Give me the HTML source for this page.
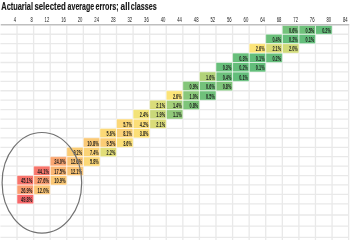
<!DOCTYPE html><html><head><meta charset="utf-8"><style>
html,body{margin:0;padding:0;background:#fff;}
body{width:350px;height:240px;overflow:hidden;position:relative;}
svg{position:absolute;left:0;top:0;will-change:transform;filter:blur(0.35px);font-family:"Liberation Sans",sans-serif;}
</style></head><body>
<svg width="350" height="240" viewBox="0 0 350 240">
<path d="M17.03 25.45V240M33.61 25.45V240M50.19 25.45V240M66.77 25.45V240M83.35 25.45V240M99.93 25.45V240M116.51 25.45V240M133.09 25.45V240M149.67 25.45V240M166.25 25.45V240M182.83 25.45V240M199.41 25.45V240M215.99 25.45V240M232.57 25.45V240M249.15 25.45V240M265.73 25.45V240M282.31 25.45V240M298.89 25.45V240M315.47 25.45V240M332.05 25.45V240M348.63 25.45V240M0.45 34.25H348.63M0.45 43.67H348.63M0.45 53.09H348.63M0.45 62.51H348.63M0.45 71.93H348.63M0.45 81.35H348.63M0.45 90.77H348.63M0.45 100.19H348.63M0.45 109.61H348.63M0.45 119.03H348.63M0.45 128.45H348.63M0.45 137.87H348.63M0.45 147.29H348.63M0.45 156.71H348.63M0.45 166.13H348.63M0.45 175.55H348.63M0.45 184.97H348.63M0.45 194.39H348.63M0.45 203.81H348.63M0.45 215.01H348.63M0.45 226.21H348.63M0.45 237.41H348.63M0.45 248.61H348.63" stroke="#e9e9e9" stroke-width="1.3" fill="none"/>
<rect x="282.31" y="25.45" width="16.58" height="8.80" fill="#74c27b"/>
<rect x="298.89" y="25.45" width="16.58" height="8.80" fill="#6fc17b"/>
<rect x="315.47" y="25.45" width="16.58" height="8.80" fill="#65be7b"/>
<rect x="265.73" y="34.25" width="16.58" height="9.42" fill="#6bc07b"/>
<rect x="282.31" y="34.25" width="16.58" height="9.42" fill="#65be7b"/>
<rect x="298.89" y="34.25" width="16.58" height="9.42" fill="#63be7b"/>
<rect x="249.15" y="43.67" width="16.58" height="9.42" fill="#fce478"/>
<rect x="265.73" y="43.67" width="16.58" height="9.42" fill="#dadc79"/>
<rect x="282.31" y="43.67" width="16.58" height="9.42" fill="#d1da79"/>
<rect x="232.57" y="53.09" width="16.58" height="9.42" fill="#68bf7b"/>
<rect x="249.15" y="53.09" width="16.58" height="9.42" fill="#63be7b"/>
<rect x="265.73" y="53.09" width="16.58" height="9.42" fill="#65be7b"/>
<rect x="215.99" y="62.51" width="16.58" height="9.42" fill="#68bf7b"/>
<rect x="232.57" y="62.51" width="16.58" height="9.42" fill="#65be7b"/>
<rect x="249.15" y="62.51" width="16.58" height="9.42" fill="#63be7b"/>
<rect x="199.41" y="71.93" width="16.58" height="9.42" fill="#b2d279"/>
<rect x="215.99" y="71.93" width="16.58" height="9.42" fill="#6bc07b"/>
<rect x="232.57" y="71.93" width="16.58" height="9.42" fill="#63be7b"/>
<rect x="182.83" y="81.35" width="16.58" height="9.42" fill="#84c67a"/>
<rect x="199.41" y="81.35" width="16.58" height="9.42" fill="#74c27b"/>
<rect x="215.99" y="81.35" width="16.58" height="9.42" fill="#7ec57a"/>
<rect x="166.25" y="90.77" width="16.58" height="9.42" fill="#fce478"/>
<rect x="182.83" y="90.77" width="16.58" height="9.42" fill="#8ac87a"/>
<rect x="199.41" y="90.77" width="16.58" height="9.42" fill="#6fc17b"/>
<rect x="149.67" y="100.19" width="16.58" height="9.42" fill="#dadc79"/>
<rect x="166.25" y="100.19" width="16.58" height="9.42" fill="#a4cf7a"/>
<rect x="182.83" y="100.19" width="16.58" height="9.42" fill="#7ec57a"/>
<rect x="133.09" y="109.61" width="16.58" height="9.42" fill="#f3e378"/>
<rect x="149.67" y="109.61" width="16.58" height="9.42" fill="#c9d879"/>
<rect x="166.25" y="109.61" width="16.58" height="9.42" fill="#90c97a"/>
<rect x="116.51" y="119.03" width="16.58" height="9.42" fill="#fcd877"/>
<rect x="133.09" y="119.03" width="16.58" height="9.42" fill="#fcde77"/>
<rect x="149.67" y="119.03" width="16.58" height="9.42" fill="#dadc79"/>
<rect x="99.93" y="128.45" width="16.58" height="9.42" fill="#fcd977"/>
<rect x="116.51" y="128.45" width="16.58" height="9.42" fill="#fbd176"/>
<rect x="133.09" y="128.45" width="16.58" height="9.42" fill="#fcdf77"/>
<rect x="83.35" y="137.87" width="16.58" height="9.42" fill="#fbc975"/>
<rect x="99.93" y="137.87" width="16.58" height="9.42" fill="#fbcd75"/>
<rect x="116.51" y="137.87" width="16.58" height="9.42" fill="#fce077"/>
<rect x="66.77" y="147.29" width="16.58" height="9.42" fill="#fbcd76"/>
<rect x="83.35" y="147.29" width="16.58" height="9.42" fill="#fbd376"/>
<rect x="99.93" y="147.29" width="16.58" height="9.42" fill="#e2de79"/>
<rect x="50.19" y="156.71" width="16.58" height="9.42" fill="#faa671"/>
<rect x="66.77" y="156.71" width="16.58" height="9.42" fill="#fbc475"/>
<rect x="83.35" y="156.71" width="16.58" height="9.42" fill="#fcd877"/>
<rect x="33.61" y="166.13" width="16.58" height="9.42" fill="#f8766c"/>
<rect x="50.19" y="166.13" width="16.58" height="9.42" fill="#fab673"/>
<rect x="66.77" y="166.13" width="16.58" height="9.42" fill="#fbc575"/>
<rect x="17.03" y="175.55" width="16.58" height="9.42" fill="#f8746c"/>
<rect x="33.61" y="175.55" width="16.58" height="9.42" fill="#fa9d70"/>
<rect x="50.19" y="175.55" width="16.58" height="9.42" fill="#fbc875"/>
<rect x="17.03" y="184.97" width="16.58" height="9.42" fill="#fa9e71"/>
<rect x="33.61" y="184.97" width="16.58" height="9.42" fill="#fbc575"/>
<rect x="17.03" y="194.39" width="16.58" height="9.42" fill="#f8696b"/>
<path d="M282.31 25.45H298.89V34.25H282.31ZM298.89 25.45H315.47V34.25H298.89ZM315.47 25.45H332.05V34.25H315.47ZM265.73 34.25H282.31V43.67H265.73ZM282.31 34.25H298.89V43.67H282.31ZM298.89 34.25H315.47V43.67H298.89ZM249.15 43.67H265.73V53.09H249.15ZM265.73 43.67H282.31V53.09H265.73ZM282.31 43.67H298.89V53.09H282.31ZM232.57 53.09H249.15V62.51H232.57ZM249.15 53.09H265.73V62.51H249.15ZM265.73 53.09H282.31V62.51H265.73ZM215.99 62.51H232.57V71.93H215.99ZM232.57 62.51H249.15V71.93H232.57ZM249.15 62.51H265.73V71.93H249.15ZM199.41 71.93H215.99V81.35H199.41ZM215.99 71.93H232.57V81.35H215.99ZM232.57 71.93H249.15V81.35H232.57ZM182.83 81.35H199.41V90.77H182.83ZM199.41 81.35H215.99V90.77H199.41ZM215.99 81.35H232.57V90.77H215.99ZM166.25 90.77H182.83V100.19H166.25ZM182.83 90.77H199.41V100.19H182.83ZM199.41 90.77H215.99V100.19H199.41ZM149.67 100.19H166.25V109.61H149.67ZM166.25 100.19H182.83V109.61H166.25ZM182.83 100.19H199.41V109.61H182.83ZM133.09 109.61H149.67V119.03H133.09ZM149.67 109.61H166.25V119.03H149.67ZM166.25 109.61H182.83V119.03H166.25ZM116.51 119.03H133.09V128.45H116.51ZM133.09 119.03H149.67V128.45H133.09ZM149.67 119.03H166.25V128.45H149.67ZM99.93 128.45H116.51V137.87H99.93ZM116.51 128.45H133.09V137.87H116.51ZM133.09 128.45H149.67V137.87H133.09ZM83.35 137.87H99.93V147.29H83.35ZM99.93 137.87H116.51V147.29H99.93ZM116.51 137.87H133.09V147.29H116.51ZM66.77 147.29H83.35V156.71H66.77ZM83.35 147.29H99.93V156.71H83.35ZM99.93 147.29H116.51V156.71H99.93ZM50.19 156.71H66.77V166.13H50.19ZM66.77 156.71H83.35V166.13H66.77ZM83.35 156.71H99.93V166.13H83.35ZM33.61 166.13H50.19V175.55H33.61ZM50.19 166.13H66.77V175.55H50.19ZM66.77 166.13H83.35V175.55H66.77ZM17.03 175.55H33.61V184.97H17.03ZM33.61 175.55H50.19V184.97H33.61ZM50.19 175.55H66.77V184.97H50.19ZM17.03 184.97H33.61V194.39H17.03ZM33.61 184.97H50.19V194.39H33.61ZM17.03 194.39H33.61V203.81H17.03Z" stroke="rgba(255,255,255,0.45)" stroke-width="1" fill="none"/>
<rect x="0.75" y="24.10" width="348.55" height="1.35" fill="#b8b8b8"/>
<g font-size="6.4" font-weight="bold" fill="#1c1c1c"><text x="297.69" y="32.60" textLength="8.70" lengthAdjust="spacingAndGlyphs" text-anchor="end">0.6%</text><text x="314.27" y="32.60" textLength="8.70" lengthAdjust="spacingAndGlyphs" text-anchor="end">0.5%</text><text x="330.85" y="32.60" textLength="8.70" lengthAdjust="spacingAndGlyphs" text-anchor="end">0.2%</text><text x="281.11" y="42.02" textLength="8.70" lengthAdjust="spacingAndGlyphs" text-anchor="end">0.4%</text><text x="297.69" y="42.02" textLength="8.70" lengthAdjust="spacingAndGlyphs" text-anchor="end">0.2%</text><text x="314.27" y="42.02" textLength="8.70" lengthAdjust="spacingAndGlyphs" text-anchor="end">0.1%</text><text x="264.53" y="51.44" textLength="8.70" lengthAdjust="spacingAndGlyphs" text-anchor="end">2.6%</text><text x="281.11" y="51.44" textLength="8.70" lengthAdjust="spacingAndGlyphs" text-anchor="end">2.1%</text><text x="297.69" y="51.44" textLength="8.70" lengthAdjust="spacingAndGlyphs" text-anchor="end">2.0%</text><text x="247.95" y="60.86" textLength="8.70" lengthAdjust="spacingAndGlyphs" text-anchor="end">0.3%</text><text x="264.53" y="60.86" textLength="8.70" lengthAdjust="spacingAndGlyphs" text-anchor="end">0.1%</text><text x="281.11" y="60.86" textLength="8.70" lengthAdjust="spacingAndGlyphs" text-anchor="end">0.2%</text><text x="231.37" y="70.28" textLength="8.70" lengthAdjust="spacingAndGlyphs" text-anchor="end">0.3%</text><text x="247.95" y="70.28" textLength="8.70" lengthAdjust="spacingAndGlyphs" text-anchor="end">0.2%</text><text x="264.53" y="70.28" textLength="8.70" lengthAdjust="spacingAndGlyphs" text-anchor="end">0.1%</text><text x="214.79" y="79.70" textLength="8.70" lengthAdjust="spacingAndGlyphs" text-anchor="end">1.6%</text><text x="231.37" y="79.70" textLength="8.70" lengthAdjust="spacingAndGlyphs" text-anchor="end">0.4%</text><text x="247.95" y="79.70" textLength="8.70" lengthAdjust="spacingAndGlyphs" text-anchor="end">0.1%</text><text x="198.21" y="89.12" textLength="8.70" lengthAdjust="spacingAndGlyphs" text-anchor="end">0.9%</text><text x="214.79" y="89.12" textLength="8.70" lengthAdjust="spacingAndGlyphs" text-anchor="end">0.6%</text><text x="231.37" y="89.12" textLength="8.70" lengthAdjust="spacingAndGlyphs" text-anchor="end">0.8%</text><text x="181.63" y="98.54" textLength="8.70" lengthAdjust="spacingAndGlyphs" text-anchor="end">2.6%</text><text x="198.21" y="98.54" textLength="8.70" lengthAdjust="spacingAndGlyphs" text-anchor="end">1.0%</text><text x="214.79" y="98.54" textLength="8.70" lengthAdjust="spacingAndGlyphs" text-anchor="end">0.5%</text><text x="165.05" y="107.96" textLength="8.70" lengthAdjust="spacingAndGlyphs" text-anchor="end">2.1%</text><text x="181.63" y="107.96" textLength="8.70" lengthAdjust="spacingAndGlyphs" text-anchor="end">1.4%</text><text x="198.21" y="107.96" textLength="8.70" lengthAdjust="spacingAndGlyphs" text-anchor="end">0.8%</text><text x="148.47" y="117.38" textLength="8.70" lengthAdjust="spacingAndGlyphs" text-anchor="end">2.4%</text><text x="165.05" y="117.38" textLength="8.70" lengthAdjust="spacingAndGlyphs" text-anchor="end">1.9%</text><text x="181.63" y="117.38" textLength="8.70" lengthAdjust="spacingAndGlyphs" text-anchor="end">1.1%</text><text x="131.89" y="126.80" textLength="8.70" lengthAdjust="spacingAndGlyphs" text-anchor="end">5.7%</text><text x="148.47" y="126.80" textLength="8.70" lengthAdjust="spacingAndGlyphs" text-anchor="end">4.2%</text><text x="165.05" y="126.80" textLength="8.70" lengthAdjust="spacingAndGlyphs" text-anchor="end">2.1%</text><text x="115.31" y="136.22" textLength="8.70" lengthAdjust="spacingAndGlyphs" text-anchor="end">5.6%</text><text x="131.89" y="136.22" textLength="8.70" lengthAdjust="spacingAndGlyphs" text-anchor="end">8.1%</text><text x="148.47" y="136.22" textLength="8.70" lengthAdjust="spacingAndGlyphs" text-anchor="end">3.8%</text><text x="98.73" y="145.64" textLength="11.40" lengthAdjust="spacingAndGlyphs" text-anchor="end">10.8%</text><text x="115.31" y="145.64" textLength="8.70" lengthAdjust="spacingAndGlyphs" text-anchor="end">9.5%</text><text x="131.89" y="145.64" textLength="8.70" lengthAdjust="spacingAndGlyphs" text-anchor="end">3.6%</text><text x="82.15" y="155.06" textLength="8.70" lengthAdjust="spacingAndGlyphs" text-anchor="end">9.2%</text><text x="98.73" y="155.06" textLength="8.70" lengthAdjust="spacingAndGlyphs" text-anchor="end">7.4%</text><text x="115.31" y="155.06" textLength="8.70" lengthAdjust="spacingAndGlyphs" text-anchor="end">2.2%</text><text x="65.57" y="164.48" textLength="11.40" lengthAdjust="spacingAndGlyphs" text-anchor="end">24.0%</text><text x="82.15" y="164.48" textLength="11.40" lengthAdjust="spacingAndGlyphs" text-anchor="end">12.6%</text><text x="98.73" y="164.48" textLength="8.70" lengthAdjust="spacingAndGlyphs" text-anchor="end">5.8%</text><text x="48.99" y="173.90" textLength="11.40" lengthAdjust="spacingAndGlyphs" text-anchor="end">44.1%</text><text x="65.57" y="173.90" textLength="11.40" lengthAdjust="spacingAndGlyphs" text-anchor="end">17.5%</text><text x="82.15" y="173.90" textLength="11.40" lengthAdjust="spacingAndGlyphs" text-anchor="end">12.1%</text><text x="32.41" y="183.32" textLength="11.40" lengthAdjust="spacingAndGlyphs" text-anchor="end">45.1%</text><text x="48.99" y="183.32" textLength="11.40" lengthAdjust="spacingAndGlyphs" text-anchor="end">27.6%</text><text x="65.57" y="183.32" textLength="11.40" lengthAdjust="spacingAndGlyphs" text-anchor="end">10.9%</text><text x="32.41" y="192.74" textLength="11.40" lengthAdjust="spacingAndGlyphs" text-anchor="end">26.9%</text><text x="48.99" y="192.74" textLength="11.40" lengthAdjust="spacingAndGlyphs" text-anchor="end">12.0%</text><text x="32.41" y="202.16" textLength="11.40" lengthAdjust="spacingAndGlyphs" text-anchor="end">49.8%</text></g>
<g font-size="7.0" font-weight="normal" fill="#222"><text x="16.13" y="22.00" textLength="2.30" lengthAdjust="spacingAndGlyphs" text-anchor="end">4</text><text x="32.71" y="22.00" textLength="2.30" lengthAdjust="spacingAndGlyphs" text-anchor="end">8</text><text x="49.29" y="22.00" textLength="4.70" lengthAdjust="spacingAndGlyphs" text-anchor="end">12</text><text x="65.87" y="22.00" textLength="4.70" lengthAdjust="spacingAndGlyphs" text-anchor="end">16</text><text x="82.45" y="22.00" textLength="4.70" lengthAdjust="spacingAndGlyphs" text-anchor="end">20</text><text x="99.03" y="22.00" textLength="4.70" lengthAdjust="spacingAndGlyphs" text-anchor="end">24</text><text x="115.61" y="22.00" textLength="4.70" lengthAdjust="spacingAndGlyphs" text-anchor="end">28</text><text x="132.19" y="22.00" textLength="4.70" lengthAdjust="spacingAndGlyphs" text-anchor="end">32</text><text x="148.77" y="22.00" textLength="4.70" lengthAdjust="spacingAndGlyphs" text-anchor="end">36</text><text x="165.35" y="22.00" textLength="4.70" lengthAdjust="spacingAndGlyphs" text-anchor="end">40</text><text x="181.93" y="22.00" textLength="4.70" lengthAdjust="spacingAndGlyphs" text-anchor="end">44</text><text x="198.51" y="22.00" textLength="4.70" lengthAdjust="spacingAndGlyphs" text-anchor="end">48</text><text x="215.09" y="22.00" textLength="4.70" lengthAdjust="spacingAndGlyphs" text-anchor="end">52</text><text x="231.67" y="22.00" textLength="4.70" lengthAdjust="spacingAndGlyphs" text-anchor="end">56</text><text x="248.25" y="22.00" textLength="4.70" lengthAdjust="spacingAndGlyphs" text-anchor="end">60</text><text x="264.83" y="22.00" textLength="4.70" lengthAdjust="spacingAndGlyphs" text-anchor="end">64</text><text x="281.41" y="22.00" textLength="4.70" lengthAdjust="spacingAndGlyphs" text-anchor="end">68</text><text x="297.99" y="22.00" textLength="4.70" lengthAdjust="spacingAndGlyphs" text-anchor="end">72</text><text x="314.57" y="22.00" textLength="4.70" lengthAdjust="spacingAndGlyphs" text-anchor="end">76</text><text x="331.15" y="22.00" textLength="4.70" lengthAdjust="spacingAndGlyphs" text-anchor="end">80</text><text x="347.73" y="22.00" textLength="4.70" lengthAdjust="spacingAndGlyphs" text-anchor="end">84</text></g>
<g font-size="10.6" font-weight="bold" fill="#151515" stroke="#151515" stroke-width="0.15"><text x="1.30" y="9.7" textLength="31.70" lengthAdjust="spacingAndGlyphs">Actuarial</text><text x="34.40" y="9.7" textLength="31.40" lengthAdjust="spacingAndGlyphs">selected</text><text x="67.60" y="9.7" textLength="26.50" lengthAdjust="spacingAndGlyphs">average</text><text x="95.50" y="9.7" textLength="23.10" lengthAdjust="spacingAndGlyphs">errors;</text><text x="120.60" y="9.7" textLength="9.20" lengthAdjust="spacingAndGlyphs">all</text><text x="130.80" y="9.7" textLength="25.90" lengthAdjust="spacingAndGlyphs">classes</text></g>
<ellipse cx="41.9" cy="182.8" rx="39.8" ry="50.3" fill="none" stroke="#727272" stroke-width="1.2"/>
</svg></body></html>
